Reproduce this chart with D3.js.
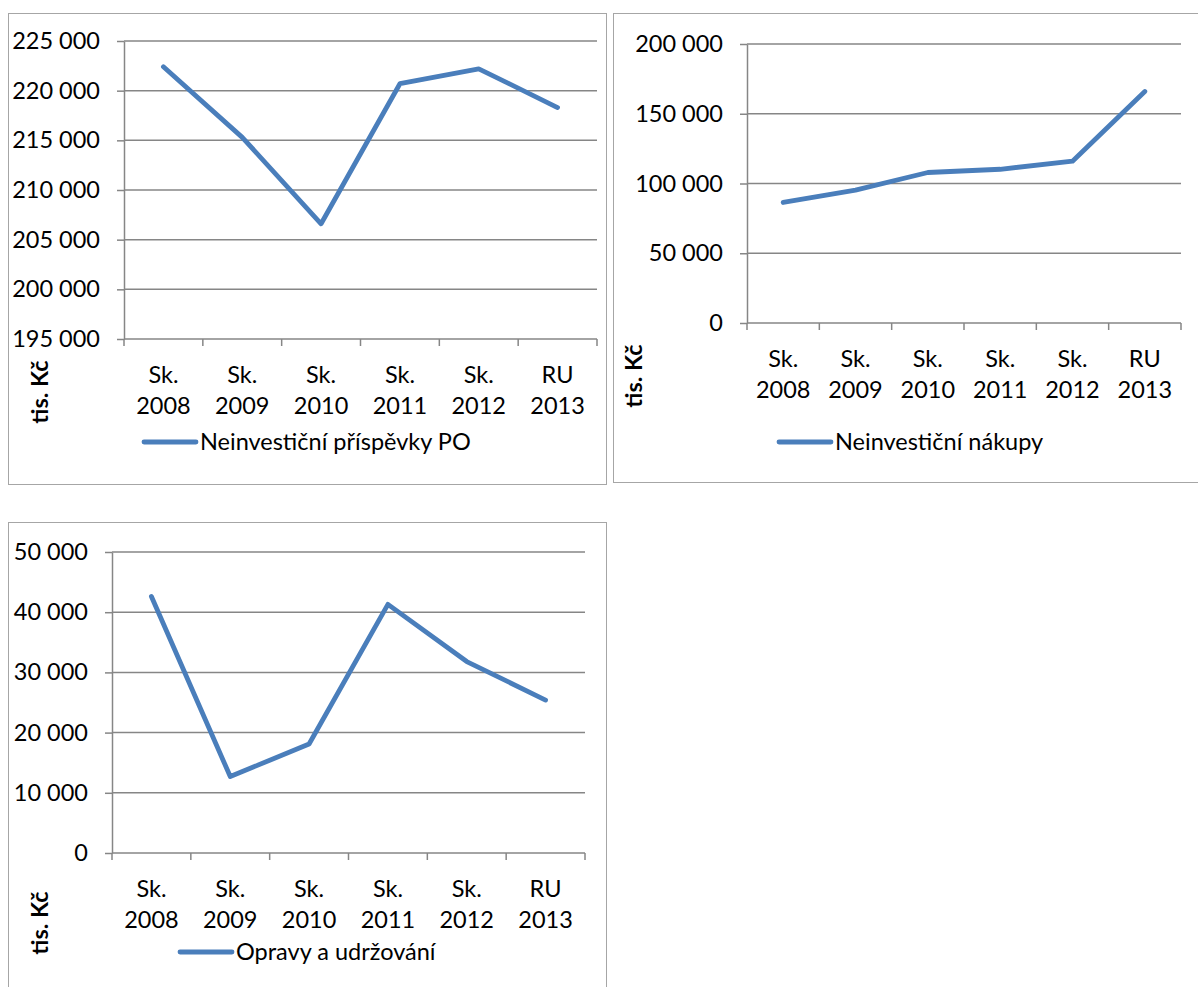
<!DOCTYPE html>
<html>
<head>
<meta charset="utf-8">
<script src="https://cdnjs.cloudflare.com/ajax/libs/d3/7.8.5/d3.min.js"></script>
<style>
    body { margin: 0; background: #fff; }
    svg text { font-family: Lato, Carlito, Calibri, sans-serif; fill: #000; }
</style>
</head>
<body>
<svg></svg>
<script>
"use strict";

// data (tis. Kč)
var categories = [["Sk.", "2008"], ["Sk.", "2009"], ["Sk.", "2010"], ["Sk.", "2011"], ["Sk.", "2012"], ["RU", "2013"]];

var prispevkyPO = [222400, 215300, 206600, 220700, 222200, 218300];
var nakupy = [86400, 95200, 107900, 110200, 116000, 166000];
var opravy = [42600, 12700, 18100, 41300, 31800, 25400];

var ticksPO = [195000, 200000, 205000, 210000, 215000, 220000, 225000];
var ticksNakupy = [0, 50000, 100000, 150000, 200000];
var ticksOpravy = [0, 10000, 20000, 30000, 40000, 50000];

var seriesNames = ["Neinvestiční příspěvky PO", "Neinvestiční nákupy", "Opravy a udržování"];
var axisTitle = "tis. Kč";

var settings = {
    svg: { width: 1198, height: 987 },
    font: 23.5,
    grid: { color: '#868686', width: 1.5, tick: 7 },
    line: { color: '#4a7ebb', width: 4.8 },
    border: '#a6a6a6'
};

// layout of the three panels
var panels = [{
    values: prispevkyPO, ticks: ticksPO, name: seriesNames[0],
    box: { x: 8, y: 13, w: 598, h: 471 },
    plot: { left: 124, right: 597, top: 41, bottom: 339 },
    title: { x: 40, y: 392 },
    legend: { x: 144, y: 442 }
}, {
    values: nakupy, ticks: ticksNakupy, name: seriesNames[1],
    box: { x: 613, y: 13, w: 600, h: 469 },
    plot: { left: 747, right: 1181, top: 44, bottom: 323 },
    title: { x: 634, y: 376 },
    legend: { x: 779, y: 442 }
}, {
    values: opravy, ticks: ticksOpravy, name: seriesNames[2],
    box: { x: 8, y: 522, w: 598, h: 480 },
    plot: { left: 112, right: 585, top: 552, bottom: 853 },
    title: { x: 40, y: 923 },
    legend: { x: 180, y: 952 }
}];

var fmt = d3.formatLocale({ decimal: ",", thousands: " ", grouping: [3], currency: ["", ""] }).format(",");

var svg = d3.select('svg')
    .attr('width', settings.svg.width)
    .attr('height', settings.svg.height);

function drawPanel(p) {
    var g = svg.append('g');

    g.append('rect')
        .attr('x', p.box.x + 0.5)
        .attr('y', p.box.y + 0.5)
        .attr('width', p.box.w)
        .attr('height', p.box.h)
        .attr('fill', 'white')
        .attr('stroke', settings.border)
        .attr('stroke-width', 1);

    var x = d3.scaleBand()
        .domain(d3.range(categories.length))
        .range([p.plot.left, p.plot.right])
        .padding(0);

    var y = d3.scaleLinear()
        .domain(d3.extent(p.ticks))
        .range([p.plot.bottom, p.plot.top]);

    // gridlines
    g.append('g')
        .selectAll('line')
        .data(p.ticks)
        .enter()
        .append('line')
        .attr('x1', p.plot.left)
        .attr('x2', p.plot.right)
        .attr('y1', d => y(d))
        .attr('y2', d => y(d))
        .attr('stroke', settings.grid.color)
        .attr('stroke-width', settings.grid.width);

    // y axis with labels
    var yAxis = g.append('g')
        .attr('transform', `translate(${p.plot.left},0)`)
        .call(d3.axisLeft(y).tickValues(p.ticks).tickFormat(fmt)
            .tickSizeInner(settings.grid.tick).tickSizeOuter(0).tickPadding(17));
    yAxis.select('.domain')
        .attr('stroke', settings.grid.color)
        .attr('stroke-width', settings.grid.width);
    yAxis.selectAll('.tick line')
        .attr('stroke', settings.grid.color)
        .attr('stroke-width', settings.grid.width);
    yAxis.selectAll('.tick text')
        .attr('font-size', settings.font)
        .attr('font-family', null)
        .attr('fill', '#000');

    // category boundary ticks under the x axis
    var bounds = d3.range(categories.length + 1).map(i => p.plot.left + i * x.bandwidth());
    g.append('g')
        .selectAll('line')
        .data(bounds)
        .enter()
        .append('line')
        .attr('x1', d => d)
        .attr('x2', d => d)
        .attr('y1', p.plot.bottom)
        .attr('y2', p.plot.bottom + settings.grid.tick)
        .attr('stroke', settings.grid.color)
        .attr('stroke-width', settings.grid.width);

    // category labels, two lines each
    var labels = g.append('g')
        .selectAll('text')
        .data(categories)
        .enter()
        .append('text')
        .attr('text-anchor', 'middle')
        .attr('font-size', settings.font)
        .attr('x', (d, i) => x(i) + x.bandwidth() / 2);
    labels.append('tspan')
        .attr('x', (d, i) => x(i) + x.bandwidth() / 2)
        .attr('y', p.plot.bottom + 44)
        .text(d => d[0]);
    labels.append('tspan')
        .attr('x', (d, i) => x(i) + x.bandwidth() / 2)
        .attr('y', p.plot.bottom + 75)
        .text(d => d[1]);

    // series line
    var line = d3.line()
        .x((d, i) => x(i) + x.bandwidth() / 2)
        .y(d => y(d));

    g.append('path')
        .datum(p.values)
        .attr('d', line)
        .attr('fill', 'none')
        .attr('stroke', settings.line.color)
        .attr('stroke-width', settings.line.width)
        .attr('stroke-linejoin', 'round')
        .attr('stroke-linecap', 'round');

    // axis title
    g.append('text')
        .attr('transform', `translate(${p.title.x},${p.title.y}) rotate(-90)`)
        .attr('text-anchor', 'middle')
        .attr('dy', '0.35em')
        .attr('font-size', settings.font)
        .attr('font-weight', 'bold')
        .text(axisTitle);

    // legend
    g.append('line')
        .attr('x1', p.legend.x)
        .attr('x2', p.legend.x + 52)
        .attr('y1', p.legend.y)
        .attr('y2', p.legend.y)
        .attr('stroke', settings.line.color)
        .attr('stroke-width', settings.line.width)
        .attr('stroke-linecap', 'round');
    g.append('text')
        .attr('x', p.legend.x + 56)
        .attr('y', p.legend.y)
        .attr('dy', '0.35em')
        .attr('font-size', settings.font)
        .text(p.name);
}

panels.forEach(drawPanel);
</script>
</body>
</html>
